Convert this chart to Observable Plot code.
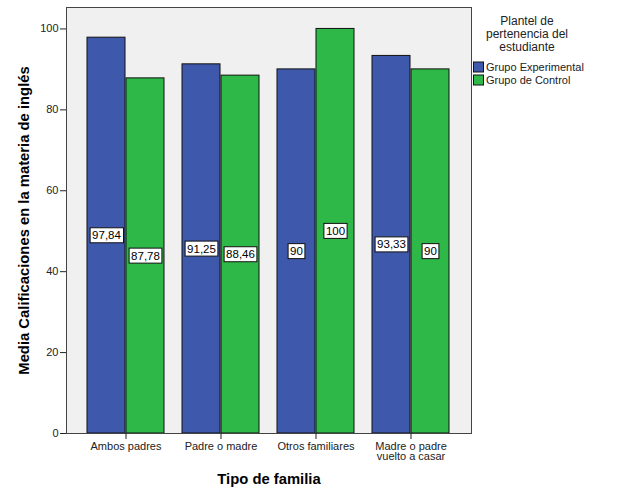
<!DOCTYPE html>
<html>
<head>
<meta charset="utf-8">
<script src="https://cdn.jsdelivr.net/npm/d3@7"></script>
<script src="https://cdn.jsdelivr.net/npm/@observablehq/plot@0.6"></script>
<style>
  html, body { margin: 0; padding: 0; background: #fff; }
  #chart svg { display: block; }
</style>
</head>
<body>
<div id="chart"></div>
<script>
// ---- data ----
const categories = ["Ambos padres", "Padre o madre", "Otros familiares", "Madre o padre\nvuelto a casar"];
const series = ["Grupo Experimental", "Grupo de Control"];
const experimental = [97.84, 91.25, 90, 93.33];
const control = [87.78, 88.46, 100, 90];
const yTicks = [0, 20, 40, 60, 80, 100];
const legendTitle = ["Plantel de", "pertenencia del", "estudiante"];
const xTitle = "Tipo de familia";
const yTitle = "Media Calificaciones en la materia de inglés";

const colors = ["#3e58ac", "#2eb848"];

const rows = [];
categories.forEach((c, i) => {
  rows.push({cat: c, series: series[0], value: experimental[i]});
  rows.push({cat: c, series: series[1], value: control[i]});
});
const expRows = rows.filter(d => d.series === series[0]);
const ctlRows = rows.filter(d => d.series === series[1]);

// ---- layout ----
const W = 629, H = 504;
const mL = 66, mR = 158, mT = 7, mB = 71;
const pIn = 0.185, pOut = 0.2085;
const plotW = W - mL - mR;
const step = plotW / (categories.length - pIn + 2 * pOut);
const bw = step * (1 - pIn);
const half = bw / 2;

const fmt = v => String(v).replace(".", ",");
const font = "'Liberation Sans', Arial, sans-serif";

const plot = Plot.plot({
  width: W,
  height: H,
  marginLeft: mL,
  marginRight: mR,
  marginTop: mT,
  marginBottom: mB,
  style: {fontFamily: font, fontSize: "11px", color: "#222", background: "#fff"},
  x: {domain: categories, paddingInner: pIn, paddingOuter: pOut, label: null},
  y: {domain: [0, 105.3], label: null},
  marks: [
    Plot.frame({fill: "#f0f0f0", stroke: null}),
    Plot.barY(expRows, {x: "cat", y: "value", fill: colors[0], stroke: "#111", strokeWidth: 1, insetRight: half, insetLeft: 0}),
    Plot.barY(ctlRows, {x: "cat", y: "value", fill: colors[1], stroke: "#111", strokeWidth: 1, insetLeft: half, insetRight: 0}),
    Plot.frame({stroke: "#444", strokeWidth: 1}),
    Plot.axisY({ticks: yTicks, tickSize: 6, tickPadding: 2, label: null, fontSize: 11, stroke: "#222"}),
    Plot.axisX({tickSize: 6, tickPadding: 3, label: null, fontSize: 11, stroke: "#222", lineHeight: 0.95}),
    Plot.text(expRows, {x: "cat", y: d => d.value / 2, text: d => fmt(d.value), dx: -half / 2, fill: "#000", fontSize: 11.5, ariaDescription: "value-labels"}),
    Plot.text(ctlRows, {x: "cat", y: d => d.value / 2, text: d => fmt(d.value), dx: half / 2, fill: "#000", fontSize: 11.5, ariaDescription: "value-labels"}),
    Plot.text([yTitle], {frameAnchor: "left", textAnchor: "middle", text: d => d, rotate: -90, dx: -42, fontWeight: "bold", fontSize: 14.8, fill: "#000"}),
    Plot.text([xTitle], {frameAnchor: "bottom", text: d => d, dy: 50, fontWeight: "bold", fontSize: 14.8, fill: "#000"})
  ]
});

document.getElementById("chart").appendChild(plot);

// white boxes behind value labels
const svg = d3.select(plot);
svg.selectAll('g[aria-description="value-labels"] text').each(function() {
  const bb = this.getBBox();
  const pad = 2;
  d3.select(this.parentNode).insert("rect", () => this)
    .attr("x", bb.x - pad).attr("y", bb.y - pad + 0.5)
    .attr("width", bb.width + 2 * pad).attr("height", bb.height + 2 * pad - 1)
    .attr("fill", "#fff").attr("stroke", "#111").attr("stroke-width", 1)
    .attr("transform", this.getAttribute("transform"));
});

// legend
const lg = svg.append("g").attr("font-family", font).attr("fill", "#222");
const lx = W - mR + 56;
legendTitle.forEach((t, i) => {
  lg.append("text").attr("x", lx).attr("y", 21 + i * 13).attr("dy", "0.35em")
    .attr("text-anchor", "middle").attr("font-size", 12).text(t);
});
series.forEach((s, i) => {
  const y0 = 62 + i * 13;
  lg.append("rect").attr("x", W - mR + 2.5).attr("y", y0).attr("width", 10).attr("height", 10)
    .attr("fill", colors[i]).attr("stroke", "#111").attr("stroke-width", 1);
  lg.append("text").attr("x", W - mR + 15).attr("y", y0 + 5).attr("dy", "0.35em")
    .attr("text-anchor", "start").attr("font-size", 11).text(s);
});
</script>
</body>
</html>
